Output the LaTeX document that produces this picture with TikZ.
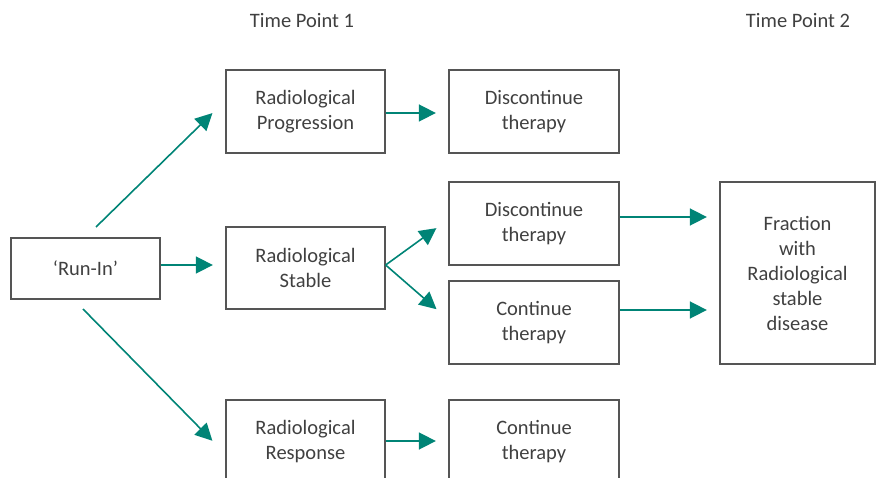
\documentclass[tikz,border=0pt]{standalone}
\usepackage{fontspec}
\setmainfont{Carlito}
\usetikzlibrary{arrows.meta, positioning, calc}
\definecolor{flowteal}{RGB}{0,132,118}
\definecolor{boxgray}{RGB}{85,85,85}
\definecolor{textgray}{RGB}{64,64,64}
\tikzset{stage label/.style={text=textgray, font=\fontsize{20.5}{25}\selectfont}}
\tikzset{stage box/.style={stage label, draw=boxgray, line width=1.3pt, rectangle, align=center, inner sep=0pt, minimum width=159pt, minimum height=83pt}}
\tikzset{therapy box/.style={stage box, minimum width=170pt}}
\tikzset{flow/.style={-{Triangle[length=17pt,width=17pt]}, draw=flowteal, line width=1.6pt, shorten >=12.5pt}}

\begin{document}
\begin{tikzpicture}[x=1pt, y=-1pt]
\useasboundingbox (0,0) rectangle (878,478);
\node[stage label] (tpone) at (302,21) {Time Point 1};
\node[stage label] (tptwo) at (798,21) {Time Point 2};
\node[stage box, minimum width=149pt, minimum height=61pt] (runin) at (85.5,268.5) {‘Run-In’};
\node[stage box] (prog) at (305.5,111.5) {Radiological\\Progression};
\node[stage box, minimum height=82pt] (stab) at (305.5,268) {Radiological\\Stable};
\node[stage box] (resp) at (305.5,441.5) {Radiological\\Response};
\node[therapy box] (disca) at (534,111.5) {Discontinue\\therapy};
\node[therapy box] (discb) at (534,223.5) {Discontinue\\therapy};
\node[therapy box] (conta) at (534,322.5) {Continue\\therapy};
\node[therapy box] (contb) at (534,441.5) {Continue\\therapy};
\node[stage box, minimum width=155pt, minimum height=182pt] (frac) at (797.5,273) {Fraction\\with\\Radiological\\stable\\disease};
\coordinate (upstart) at (96,227);
\coordinate (downstart) at (83,309);
\draw[flow, shorten >=18pt] (upstart) -- ([yshift=11pt]prog.west);
\draw[flow] ([yshift=3.5pt]runin.east) -- ([yshift=3.5pt]runin.east -| stab.west);
\draw[flow, shorten >=18.5pt] (downstart) -- ([yshift=-12.5pt]resp.west);
\draw[flow] ([yshift=-1.5pt]prog.east) -- ([yshift=-1.5pt]prog.east -| disca.west);
\draw[flow, shorten >=14.7pt] ([yshift=3pt]stab.east) -- ([yshift=4pt]discb.west);
\draw[flow, shorten >=15.7pt] ([yshift=3pt]stab.east) -- ([yshift=3pt]conta.west);
\draw[flow] ([yshift=0.5pt]resp.east) -- ([yshift=0.5pt]resp.east -| contb.west);
\draw[flow] ([yshift=6.5pt]discb.east) -- ([yshift=6.5pt]discb.east -| frac.west);
\draw[flow] ([yshift=12.5pt]conta.east) -- ([yshift=12.5pt]conta.east -| frac.west);
\end{tikzpicture}
\end{document}
